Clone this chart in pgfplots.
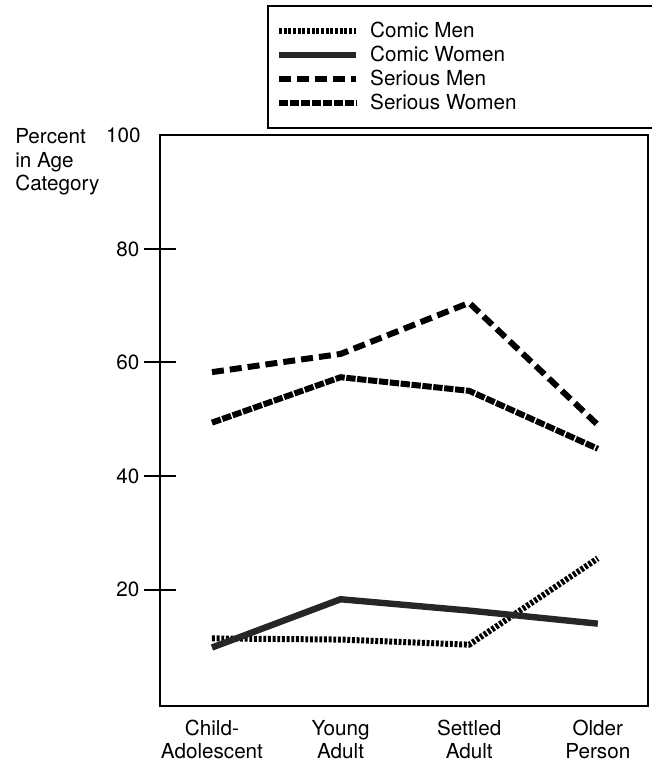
\documentclass[border=0pt]{standalone}
\usepackage{pgfplots}
\pgfplotsset{compat=1.18}
\usepackage{fontspec}
\setmainfont{TeX Gyre Heros}
\newcommand{\lf}{\fontsize{15.5}{17.5}\selectfont}
\begin{document}
\begin{tikzpicture}
\begin{axis}[
  scale only axis, width=366pt, height=428pt,
  xmin=-0.404, xmax=3.39, ymin=-0.5, ymax=100,
  clip=false,
  axis line style={line width=1.6pt},
  xtick={0,1,2,3},
  xticklabels={Child-\\Adolescent, Young\\Adult, Settled\\Adult, Older\\Person},
  xticklabel style={align=center, font=\lf, yshift=5pt},
  x tick style={draw=none},
  ytick={20,40,60,80},
  ytick pos=left,
  yticklabel style={font=\lf},
  y tick style={line width=1.5pt, black},
  major tick length=24pt, tick align=center,
  extra y ticks={100},
  extra y tick style={major tick length=0pt, yticklabel style={xshift=-11pt}},
  /pgf/number format/assume math mode=true,
  legend cell align=left,
  legend style={at={(axis description cs:0.2193,1.228)}, anchor=north west,
    draw=black, line width=1.2pt, font=\lf, row sep=1pt, inner xsep=6pt, inner ysep=10pt},
  legend image code/.code={\draw[#1] (0pt,0pt) -- (58pt,0pt); \path (64pt,0pt);},
]
\addplot[black, line width=4.5pt, dash pattern=on 2.2pt off 1.3pt] coordinates {(0,11.4) (1,11.2) (2,10.3) (3,25.5)};
\addlegendentry{\makebox[220pt][l]{Comic Men}}
\addplot[black!85, line width=4.8pt] coordinates {(0,9.8) (1,18.3) (2,16.3) (3,14.0)};
\addlegendentry{\makebox[220pt][l]{Comic Women}}
\addplot[black, line width=4.5pt, dash pattern=on 9pt off 4.5pt] coordinates {(0,58.3) (1,61.5) (2,70.5) (3,49.0)};
\addlegendentry{\makebox[220pt][l]{Serious Men}}
\addplot[black, line width=4.5pt, dash pattern=on 7pt off 1.2pt] coordinates {(0,49.4) (1,57.4) (2,55.0) (3,44.8)};
\addlegendentry{\makebox[220pt][l]{Serious Women}}
\node[anchor=north west, align=left, font=\lf, inner sep=0pt] at (axis description cs:-0.297,1.012) {Percent\\in Age\\Category};
\end{axis}
\pgfresetboundingbox
\path[use as bounding box] ([shift={(-120pt,-48pt)}]current axis.south west) rectangle ++(488.25pt,577.5pt);
\end{tikzpicture}
\end{document}
